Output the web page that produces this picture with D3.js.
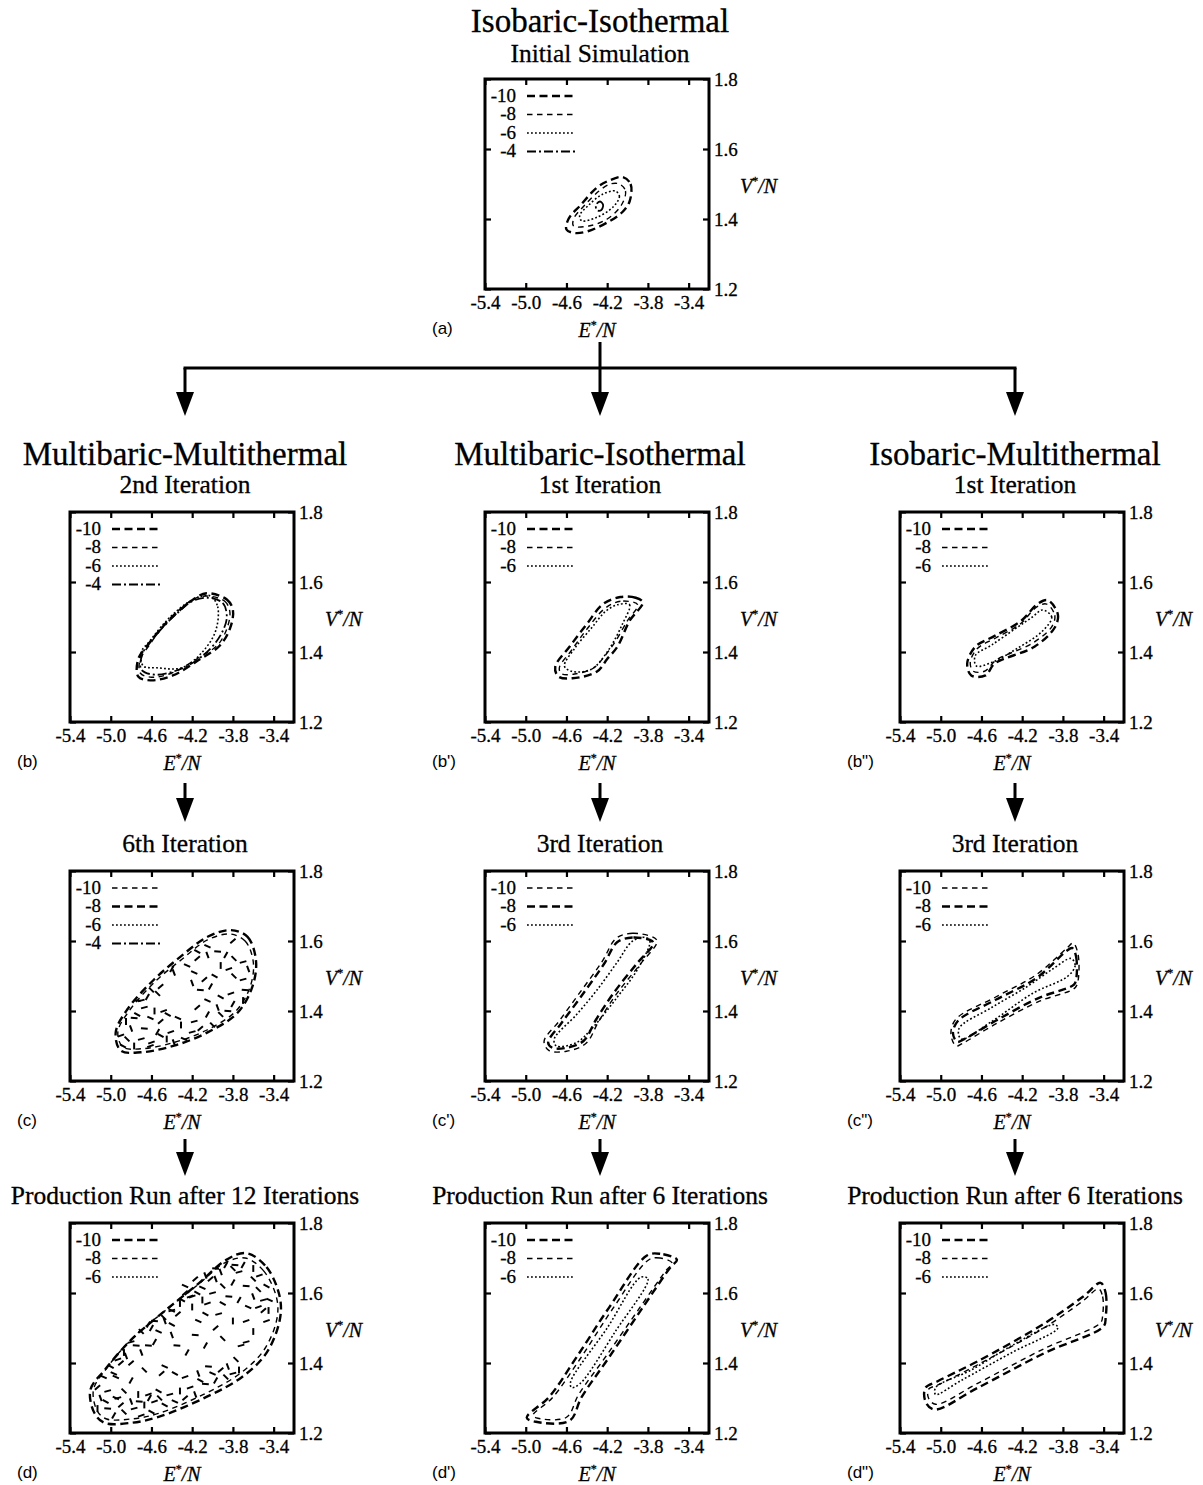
<!DOCTYPE html>
<html><head><meta charset="utf-8">
<script src="https://cdn.jsdelivr.net/npm/d3@7"></script>
<style>
body{margin:0;background:#fff}
svg text{font-family:"Liberation Serif","Times New Roman",serif;fill:#000;stroke:#000;stroke-width:0.3px}
</style></head><body>
<svg id="fig" width="1203" height="1485"></svg>
<script>
// Axis setup shared by all panels
const xDomain = [-5.4, -3.2];
const yDomain = [1.2, 1.8];
const xTicks = [-5.4, -5.0, -4.6, -4.2, -3.8, -3.4];
const yTicks = [1.2, 1.4, 1.6, 1.8];
const levels = [-10, -8, -6, -4];

// Contour lines of ln P(E*/N, V*/N), one closed loop per level: [E*/N, V*/N]
const a10 = [[-4.05,1.52],[-3.97,1.50],[-3.98,1.45],[-4.05,1.42],[-4.17,1.395],[-4.39,1.365],[-4.52,1.36],[-4.60,1.37],[-4.58,1.40],[-4.46,1.44],[-4.30,1.49],[-4.18,1.51]];
const a8  = [[-4.08,1.50],[-4.02,1.48],[-4.06,1.44],[-4.20,1.40],[-4.38,1.38],[-4.53,1.38],[-4.53,1.40],[-4.42,1.44],[-4.28,1.48],[-4.17,1.50]];
const a6  = [[-4.12,1.48],[-4.08,1.465],[-4.14,1.435],[-4.30,1.405],[-4.45,1.395],[-4.47,1.41],[-4.38,1.44],[-4.25,1.47]];
const a4  = [[-4.27,1.45],[-4.24,1.44],[-4.26,1.425],[-4.30,1.425],[-4.31,1.44]];

const b10 = [[-4.06,1.568],[-3.86,1.55],[-3.80,1.52],[-3.83,1.466],[-3.93,1.418],[-4.12,1.38],[-4.39,1.333],[-4.61,1.319],[-4.73,1.33],[-4.73,1.38],[-4.64,1.418],[-4.48,1.475],[-4.32,1.52],[-4.19,1.55]];
const b8  = [[-4.06,1.56],[-3.88,1.545],[-3.83,1.515],[-3.86,1.466],[-3.95,1.42],[-4.13,1.385],[-4.40,1.34],[-4.60,1.328],[-4.71,1.34],[-4.71,1.38],[-4.62,1.42],[-4.47,1.48],[-4.31,1.525],[-4.18,1.552]];
const b6  = [[-4.02,1.56],[-3.95,1.53],[-3.97,1.46],[-4.10,1.40],[-4.30,1.355],[-4.55,1.355],[-4.68,1.36],[-4.70,1.40],[-4.62,1.43],[-4.45,1.49],[-4.25,1.54],[-4.10,1.56]];
const b4  = [[-4.05,1.555],[-3.90,1.54],[-3.86,1.50],[-3.90,1.46],[-4.02,1.41],[-4.25,1.36],[-4.55,1.335],[-4.70,1.35],[-4.68,1.40],[-4.52,1.46],[-4.35,1.51],[-4.20,1.545]];

const bp10 = [[-3.85,1.542],[-3.92,1.555],[-4.07,1.557],[-4.24,1.537],[-4.40,1.48],[-4.57,1.415],[-4.71,1.358],[-4.68,1.33],[-4.54,1.325],[-4.30,1.344],[-4.20,1.38],[-4.10,1.415],[-3.98,1.489]];
const bp8  = [[-3.90,1.535],[-4.07,1.545],[-4.22,1.525],[-4.40,1.465],[-4.55,1.405],[-4.67,1.355],[-4.65,1.338],[-4.52,1.337],[-4.33,1.355],[-4.22,1.39],[-4.12,1.43],[-4.00,1.49]];
const bp6  = [[-4.10,1.535],[-3.98,1.535],[-4.05,1.48],[-4.20,1.40],[-4.36,1.35],[-4.55,1.345],[-4.62,1.36],[-4.52,1.41],[-4.35,1.47],[-4.22,1.515]];

const bpp10 = [[-3.95,1.548],[-3.85,1.508],[-3.88,1.47],[-4.08,1.415],[-4.47,1.367],[-4.56,1.333],[-4.70,1.333],[-4.74,1.367],[-4.66,1.415],[-4.47,1.446],[-4.21,1.489],[-4.05,1.537]];
const bpp8  = [[-3.96,1.537],[-3.88,1.505],[-3.91,1.472],[-4.10,1.425],[-4.45,1.378],[-4.57,1.345],[-4.68,1.345],[-4.71,1.37],[-4.64,1.41],[-4.46,1.44],[-4.22,1.48],[-4.06,1.528]];
const bpp6  = [[-4.00,1.52],[-3.91,1.50],[-4.00,1.46],[-4.25,1.41],[-4.50,1.37],[-4.65,1.36],[-4.66,1.39],[-4.50,1.42],[-4.25,1.47],[-4.10,1.50]];

const c10 = [[-3.83,1.62],[-3.68,1.60],[-3.60,1.54],[-3.63,1.47],[-3.77,1.40],[-4.06,1.345],[-4.38,1.31],[-4.70,1.292],[-4.88,1.297],[-4.93,1.34],[-4.82,1.40],[-4.56,1.485],[-4.30,1.548],[-4.05,1.603]];
const c8  = [[-3.82,1.631],[-3.656,1.612],[-3.574,1.546],[-3.607,1.471],[-3.754,1.395],[-4.049,1.339],[-4.377,1.301],[-4.705,1.282],[-4.902,1.287],[-4.951,1.339],[-4.836,1.405],[-4.574,1.49],[-4.311,1.556],[-4.049,1.612]];
// small isolated islands inside the sampled region
const cIslands = [[-4.25,1.53],[-4.15,1.55],[-4.05,1.56],[-3.95,1.57],[-3.87,1.56],[-3.79,1.55],[-3.70,1.54],[-3.92,1.53],[-3.84,1.52],[-3.98,1.50],[-4.18,1.51],[-4.08,1.49],[-4.20,1.48],[-4.12,1.46],[-4.02,1.47],[-3.79,1.50],[-3.70,1.49],[-3.70,1.43],[-3.82,1.45],[-3.92,1.44],[-4.05,1.43],[-4.15,1.41],[-3.95,1.41],[-3.85,1.40],[-4.05,1.39],[-3.92,1.39],[-4.18,1.37],[-4.31,1.36],[-4.41,1.34],[-4.51,1.33],[-4.28,1.32],[-4.12,1.35],[-4.38,1.31],[-4.74,1.43],[-4.64,1.44],[-4.54,1.45],[-4.67,1.41],[-4.57,1.40],[-4.48,1.40],[-4.74,1.39],[-4.61,1.38],[-4.51,1.37],[-4.80,1.35],[-4.67,1.35],[-4.54,1.34],[-4.84,1.32],[-4.70,1.32],[-4.77,1.30],[-4.61,1.30],[-4.44,1.39],[-4.34,1.38],[-4.51,1.47],[-4.38,1.51],[-4.77,1.38],[-4.40,1.52],[-4.60,1.46],[-4.70,1.43],[-4.85,1.37],[-4.90,1.33],[-4.15,1.57],[-4.05,1.585],[-3.80,1.60],[-3.65,1.52],[-3.68,1.46],[-3.80,1.42],[-4.00,1.36],[-4.20,1.34],[-4.45,1.32],[-4.60,1.31],[-4.88,1.30]];

const cp10 = [[-3.73,1.608],[-3.95,1.622],[-4.11,1.608],[-4.25,1.541],[-4.48,1.448],[-4.67,1.372],[-4.82,1.313],[-4.77,1.287],[-4.60,1.285],[-4.41,1.307],[-4.28,1.372],[-4.11,1.448],[-3.88,1.532],[-3.71,1.597]];
const cp8  = [[-3.76,1.60],[-3.95,1.61],[-4.10,1.597],[-4.23,1.535],[-4.46,1.44],[-4.65,1.365],[-4.78,1.31],[-4.74,1.295],[-4.60,1.295],[-4.43,1.315],[-4.31,1.375],[-4.14,1.45],[-3.91,1.535],[-3.75,1.59]];
const cp6  = [[-3.82,1.61],[-3.78,1.60],[-3.90,1.52],[-4.10,1.44],[-4.35,1.35],[-4.50,1.31],[-4.70,1.30],[-4.72,1.32],[-4.50,1.39],[-4.30,1.46],[-4.10,1.54],[-3.95,1.60]];

const cpp10 = [[-3.70,1.594],[-3.65,1.56],[-3.66,1.476],[-3.70,1.462],[-4.03,1.428],[-4.46,1.363],[-4.79,1.307],[-4.85,1.30],[-4.90,1.335],[-4.85,1.377],[-4.46,1.44],[-4.06,1.504],[-3.76,1.58]];
const cpp8  = [[-3.71,1.58],[-3.67,1.555],[-3.68,1.48],[-3.72,1.47],[-4.04,1.437],[-4.46,1.372],[-4.78,1.318],[-4.84,1.312],[-4.88,1.337],[-4.83,1.372],[-4.46,1.432],[-4.06,1.494],[-3.77,1.57]];
const cpp6  = [[-3.72,1.55],[-3.68,1.53],[-3.75,1.50],[-4.10,1.45],[-4.50,1.37],[-4.80,1.32],[-4.82,1.35],[-4.50,1.41],[-4.15,1.47],[-3.90,1.52]];

const d10 = [[-3.67,1.714],[-3.47,1.674],[-3.34,1.589],[-3.34,1.523],[-3.47,1.429],[-3.71,1.36],[-4.06,1.303],[-4.53,1.246],[-4.80,1.229],[-5.06,1.229],[-5.16,1.257],[-5.20,1.323],[-5.06,1.38],[-4.80,1.466],[-4.46,1.551],[-4.13,1.629],[-3.87,1.694]];
const d8  = [[-3.68,1.70],[-3.50,1.664],[-3.37,1.585],[-3.37,1.523],[-3.50,1.435],[-3.73,1.37],[-4.07,1.313],[-4.53,1.256],[-4.80,1.24],[-5.04,1.24],[-5.13,1.262],[-5.17,1.323],[-5.04,1.385],[-4.79,1.47],[-4.45,1.553],[-4.13,1.627],[-3.88,1.686]];
const dIslands = [[-4.27,1.62],[-4.17,1.64],[-4.07,1.65],[-3.97,1.67],[-3.87,1.68],[-3.80,1.67],[-3.74,1.66],[-3.60,1.67],[-3.54,1.65],[-3.47,1.62],[-3.44,1.58],[-3.50,1.55],[-3.60,1.59],[-3.67,1.62],[-3.80,1.63],[-3.90,1.62],[-4.00,1.60],[-4.10,1.58],[-4.20,1.59],[-4.30,1.58],[-4.40,1.55],[-4.34,1.54],[-4.47,1.52],[-4.57,1.52],[-4.63,1.51],[-4.70,1.49],[-4.80,1.46],[-4.87,1.43],[-4.93,1.41],[-5.00,1.39],[-5.07,1.36],[-5.13,1.33],[-5.10,1.30],[-5.03,1.27],[-4.97,1.25],[-4.87,1.26],[-4.77,1.27],[-4.67,1.28],[-4.57,1.29],[-4.47,1.28],[-4.37,1.29],[-4.27,1.30],[-4.17,1.31],[-4.07,1.34],[-3.97,1.35],[-3.87,1.36],[-3.80,1.37],[-3.74,1.38],[-4.27,1.36],[-4.37,1.37],[-4.47,1.39],[-4.50,1.37],[-4.14,1.37],[-4.04,1.39],[-4.80,1.35],[-4.87,1.32],[-4.93,1.30],[-4.73,1.31],[-4.63,1.31],[-4.53,1.32],[-4.97,1.37],[-4.80,1.40],[-4.70,1.43],[-4.63,1.45],[-4.57,1.46],[-4.67,1.38],[-3.94,1.54],[-3.80,1.52],[-3.67,1.52],[-4.07,1.54],[-4.14,1.52],[-3.97,1.50],[-4.40,1.48],[-4.17,1.48],[-4.07,1.45],[-3.77,1.41],[-3.67,1.46],[-3.60,1.49],[-3.47,1.52],[-4.40,1.51],[-4.53,1.49],[-4.27,1.60],[-3.97,1.64],[-3.84,1.59],[-3.74,1.58],[-3.60,1.64],[-5.03,1.32],[-5.13,1.27],[-4.70,1.25],[-4.60,1.26],[-4.95,1.36],[-4.90,1.40],[-4.85,1.42],[-4.75,1.45],[-4.60,1.50],[-4.48,1.53],[-4.40,1.55],[-4.32,1.57],[-4.22,1.59],[-4.15,1.60],[-4.10,1.615],[-4.02,1.64],[-3.92,1.66],[-3.78,1.68],[-3.70,1.68],[-3.55,1.61],[-3.50,1.58],[-3.45,1.55],[-3.55,1.56],[-5.05,1.29],[-4.95,1.30],[-4.90,1.28],[-4.80,1.29],[-4.72,1.29],[-4.62,1.30],[-4.52,1.30],[-4.42,1.31],[-4.32,1.32],[-4.22,1.33],[-4.12,1.35],[-4.00,1.37],[-3.92,1.38],[-3.85,1.39],[-4.35,1.45],[-4.25,1.43],[-3.90,1.47],[-3.72,1.45],[-4.20,1.56],[-4.05,1.57],[-3.90,1.57],[-3.65,1.56]];

const dp10 = [[-3.515,1.695],[-3.68,1.712],[-3.81,1.707],[-4.18,1.559],[-4.50,1.417],[-4.77,1.303],[-4.99,1.244],[-4.90,1.232],[-4.57,1.235],[-4.45,1.303],[-4.18,1.417],[-3.85,1.559],[-3.58,1.673]];
const dp8  = [[-3.56,1.685],[-3.68,1.70],[-3.79,1.695],[-4.15,1.553],[-4.47,1.41],[-4.74,1.30],[-4.93,1.25],[-4.88,1.242],[-4.60,1.245],[-4.48,1.31],[-4.21,1.42],[-3.88,1.558],[-3.62,1.665]];
const dp6  = [[-3.87,1.645],[-3.80,1.64],[-4.12,1.49],[-4.47,1.34],[-4.55,1.33],[-4.56,1.345],[-4.20,1.50]];

const dpp10 = [[-3.43,1.629],[-3.38,1.60],[-3.38,1.53],[-3.40,1.505],[-3.977,1.429],[-4.637,1.329],[-5.066,1.267],[-5.15,1.29],[-5.15,1.329],[-5.03,1.348],[-4.637,1.405],[-3.977,1.514],[-3.60,1.59]];
const dpp8  = [[-3.45,1.612],[-3.41,1.59],[-3.41,1.535],[-3.43,1.515],[-3.977,1.442],[-4.637,1.342],[-5.05,1.282],[-5.12,1.30],[-5.12,1.325],[-5.02,1.338],[-4.637,1.395],[-3.977,1.502],[-3.60,1.578]];
const dpp6  = [[-3.88,1.51],[-3.85,1.50],[-4.30,1.43],[-4.80,1.35],[-5.05,1.31],[-5.05,1.33],[-4.70,1.38],[-4.30,1.45]];

// Headings
const topTitle = "Isobaric-Isothermal";
const topSubtitle = "Initial Simulation";
const columnTitles = ["Multibaric-Multithermal", "Multibaric-Isothermal", "Isobaric-Multithermal"];
const rowSubtitles = [
  ["2nd Iteration", "1st Iteration", "1st Iteration"],
  ["6th Iteration", "3rd Iteration", "3rd Iteration"],
  ["Production Run after 12 Iterations", "Production Run after 6 Iterations", "Production Run after 6 Iterations"]
];
const panelLabels = [["(b)", "(b')", "(b\")"], ["(c)", "(c')", "(c\")"], ["(d)", "(d')", "(d\")"]];

// ---------- layout ----------
const W = 224, H = 210;
const colX = [70, 485, 900];
const rowY = [512, 871, 1223];
const topPanelY = 79;

const strokeStyles = {
  longBold: {w: 2.4, dash: "8,4.5"},
  dashThin: {w: 1.4, dash: "5.5,4.5"},
  dot:      {w: 1.6, dash: "1.8,2.2"},
  dashDot:  {w: 1.8, dash: "9,3,2,3"}
};
const stdMap = {"-10": "longBold", "-8": "dashThin", "-6": "dot", "-4": "dashDot"};
const altMap = {"-10": "dashThin", "-8": "longBold", "-6": "dot", "-4": "dashDot"};

const panels = [
  {x: colX[1], y: topPanelY, label: "(a)", legend: levels, map: stdMap, loops: [[-10, a10], [-8, a8], [-6, a6], [-4, a4]]},
  {x: colX[0], y: rowY[0], label: panelLabels[0][0], legend: levels, map: stdMap, loops: [[-10, b10], [-8, b8], [-6, b6], [-4, b4]]},
  {x: colX[1], y: rowY[0], label: panelLabels[0][1], legend: levels.slice(0, 3), map: stdMap, loops: [[-10, bp10], [-8, bp8], [-6, bp6]]},
  {x: colX[2], y: rowY[0], label: panelLabels[0][2], legend: levels.slice(0, 3), map: stdMap, loops: [[-10, bpp10], [-8, bpp8], [-6, bpp6]]},
  {x: colX[0], y: rowY[1], label: panelLabels[1][0], legend: levels, map: altMap, loops: [[-10, c10], [-8, c8]], islands: cIslands},
  {x: colX[1], y: rowY[1], label: panelLabels[1][1], legend: levels.slice(0, 3), map: altMap, loops: [[-10, cp10], [-8, cp8], [-6, cp6]]},
  {x: colX[2], y: rowY[1], label: panelLabels[1][2], legend: levels.slice(0, 3), map: altMap, loops: [[-10, cpp10], [-8, cpp8], [-6, cpp6]]},
  {x: colX[0], y: rowY[2], label: panelLabels[2][0], legend: levels.slice(0, 3), map: stdMap, loops: [[-10, d10], [-8, d8]], islands: dIslands},
  {x: colX[1], y: rowY[2], label: panelLabels[2][1], legend: levels.slice(0, 3), map: stdMap, loops: [[-10, dp10], [-8, dp8], [-6, dp6]]},
  {x: colX[2], y: rowY[2], label: panelLabels[2][2], legend: levels.slice(0, 3), map: stdMap, loops: [[-10, dpp10], [-8, dpp8], [-6, dpp6]]}
];

const svg = d3.select("#fig");
const fmt = d3.formatLocale({decimal: ".", thousands: ",", grouping: [3], currency: ["", ""], minus: "-"}).format(".1f");
const islandAngles = [25, -40, 70, 5, 120, 45, -15, 90, 160, 30];

function axisTitle(g, main, tx, ty, anchor) {
  const t = g.append("text").attr("x", tx).attr("y", ty).attr("text-anchor", anchor).attr("font-size", 20);
  t.append("tspan").attr("font-style", "italic").text(main);
  t.append("tspan").attr("font-size", 12).attr("dy", -8).text("*");
  t.append("tspan").attr("font-style", "italic").attr("dy", 8).text("/N");
}

function drawPanel(p) {
  const g = svg.append("g").attr("transform", `translate(${p.x},${p.y})`);
  const x = d3.scaleLinear().domain(xDomain).range([0, W]);
  const y = d3.scaleLinear().domain(yDomain).range([H, 0]);
  const line = d3.line().x(d => x(d[0])).y(d => y(d[1])).curve(d3.curveCatmullRomClosed.alpha(0.5));

  p.loops.forEach(([lvl, pts]) => {
    const st = strokeStyles[p.map[lvl]];
    g.append("path").datum(pts).attr("d", line)
      .attr("fill", "none").attr("stroke", "#000")
      .attr("stroke-width", st.w).attr("stroke-dasharray", st.dash);
  });

  if (p.islands) {
    g.selectAll("line.island").data(p.islands).join("line").attr("class", "island")
      .each(function(d, i) {
        const a = islandAngles[i % islandAngles.length] * Math.PI / 180;
        const r = 3.4, cx = x(d[0]), cy = y(d[1]);
        d3.select(this).attr("x1", cx - r * Math.cos(a)).attr("y1", cy - r * Math.sin(a))
          .attr("x2", cx + r * Math.cos(a)).attr("y2", cy + r * Math.sin(a));
      })
      .attr("stroke", "#000").attr("stroke-width", 2).attr("stroke-linecap", "butt");
  }

  // legend
  p.legend.forEach((lvl, i) => {
    const ly = 16 + i * 18.5;
    const st = strokeStyles[p.map[lvl]];
    g.append("text").attr("x", 31).attr("y", ly).attr("dy", "0.35em").attr("text-anchor", "end")
      .attr("font-size", 19).text(String(lvl));
    g.append("line").attr("x1", 42).attr("x2", 90).attr("y1", ly + 1).attr("y2", ly + 1)
      .attr("stroke", "#000").attr("stroke-width", st.w).attr("stroke-dasharray", st.dash);
  });

  // axes with inward ticks on all four sides
  const styleAxis = sel => {
    sel.select(".domain").remove();
    sel.selectAll("line").attr("stroke-width", 2.2);
    sel.selectAll("text").attr("font-family", "'Liberation Serif', serif").attr("font-size", 19).attr("fill", "#000");
  };
  g.append("g").attr("transform", `translate(0,${H})`)
    .call(d3.axisBottom(x).tickValues(xTicks).tickFormat(fmt).tickSizeInner(-6).tickSizeOuter(0).tickPadding(7))
    .call(styleAxis);
  g.append("g")
    .call(d3.axisTop(x).tickValues(xTicks).tickFormat("").tickSizeInner(-6).tickSizeOuter(0))
    .call(styleAxis);
  g.append("g")
    .call(d3.axisLeft(y).tickValues(yTicks).tickFormat("").tickSizeInner(-6).tickSizeOuter(0))
    .call(styleAxis);
  g.append("g").attr("transform", `translate(${W},0)`)
    .call(d3.axisRight(y).tickValues(yTicks).tickFormat(fmt).tickSizeInner(-6).tickSizeOuter(0).tickPadding(5))
    .call(styleAxis);

  g.append("rect").attr("width", W).attr("height", H)
    .attr("fill", "none").attr("stroke", "#000").attr("stroke-width", 3);

  axisTitle(g, "E", W / 2, H + 48, "middle");
  axisTitle(g, "V", W + 31, H / 2 + 9, "start");

  g.append("text").attr("x", -53).attr("y", H + 45)
    .attr("font-size", 17).style("stroke-width", "0px")
    .style("font-family", "'Liberation Sans', Arial, sans-serif").text(p.label);
}

panels.forEach(drawPanel);

// headings
const centers = colX.map(cx => cx + W / 2 + 3);
svg.append("text").attr("x", centers[1]).attr("y", 32).attr("text-anchor", "middle").attr("font-size", 33).text(topTitle);
svg.append("text").attr("x", centers[1]).attr("y", 62).attr("text-anchor", "middle").attr("font-size", 25.5).text(topSubtitle);
columnTitles.forEach((t, i) => {
  svg.append("text").attr("x", centers[i]).attr("y", 465).attr("text-anchor", "middle").attr("font-size", 33).text(t);
});
rowSubtitles.forEach((row, r) => row.forEach((t, i) => {
  svg.append("text").attr("x", centers[i]).attr("y", rowY[r] - 19).attr("text-anchor", "middle").attr("font-size", 25.5).text(t);
}));

// flow arrows
const arrows = svg.append("g").attr("stroke", "#000").attr("fill", "#000");
function arrow(xc, y1, y2) {
  arrows.append("line").attr("x1", xc).attr("x2", xc).attr("y1", y1).attr("y2", y2 - 20).attr("stroke-width", 3);
  arrows.append("path").attr("d", `M${xc - 9},${y2 - 24}L${xc + 9},${y2 - 24}L${xc},${y2}Z`).attr("stroke", "none");
}
arrows.append("line").attr("x1", centers[1]).attr("x2", centers[1]).attr("y1", 342).attr("y2", 368).attr("stroke-width", 3);
arrows.append("line").attr("x1", centers[0] - 1.5).attr("x2", centers[2] + 1.5).attr("y1", 368).attr("y2", 368).attr("stroke-width", 3);
centers.forEach(cx => {
  arrow(cx, 368, 416);
  arrow(cx, 783, 822);
  arrow(cx, 1139, 1176);
});
</script></body></html>
